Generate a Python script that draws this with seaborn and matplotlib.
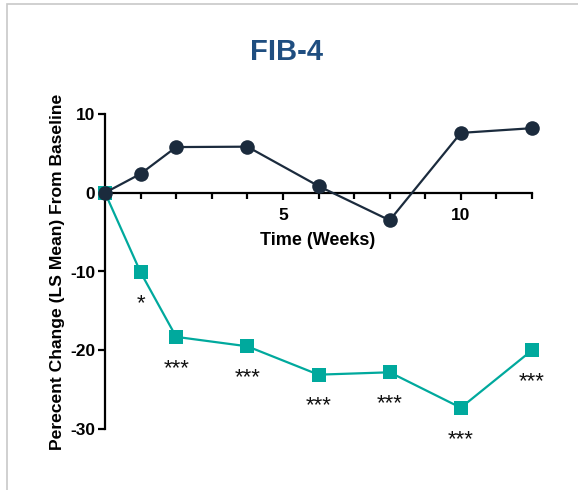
import matplotlib
matplotlib.use("Agg")
import matplotlib.pyplot as plt
from matplotlib.patches import Rectangle
from matplotlib.ticker import FixedLocator, NullFormatter
import seaborn as sns
import pandas as pd

# Weeks of assessment
weeks = [0, 1, 2, 4, 6, 8, 10, 12]
# LS mean percent change from baseline in FIB-4
placebo = [0.0, 2.4, 5.8, 5.85, 0.85, -3.5, 7.6, 8.2]
treated = [0.0, -10.1, -18.3, -19.5, -23.1, -22.8, -27.3, -20.0]
# significance markers for the treated arm
signif = ["", "*", "***", "***", "***", "***", "***", "***"]

y_ticks = [10, 0, -10, -20, -30]
x_major = [5, 10]
x_minor = [1, 2, 3, 4, 6, 7, 8, 9, 11, 12]

navy = "#1b2b3d"
teal = "#00a99d"

sns.set_theme(style="white")
plt.rcParams["font.family"] = ["Liberation Sans", "DejaVu Sans"]
plt.rcParams["font.weight"] = "bold"

DPI = 100
fig = plt.figure(figsize=(5.78, 4.9), dpi=DPI)
W, H = 578, 490
ax = fig.add_axes([105 / W, 1 - 429 / H, (532 - 105) / W, (429 - 114) / H])

df = pd.DataFrame({"week": weeks + weeks,
                   "change": treated + placebo,
                   "arm": ["treated"] * len(weeks) + ["placebo"] * len(weeks)})

sns.lineplot(data=df[df.arm == "treated"], x="week", y="change", ax=ax,
             color=teal, lw=1.6, marker="s", markersize=10, markeredgewidth=0,
             clip_on=False, zorder=3)
sns.lineplot(data=df[df.arm == "placebo"], x="week", y="change", ax=ax,
             color=navy, lw=1.6, marker="o", markersize=10.5, markeredgewidth=0,
             clip_on=False, zorder=4)

px = 72 / DPI  # points per pixel
for x, y, s in zip(weeks, treated, signif):
    if s:
        ax.annotate(s, (x, y), xytext=(0, -37 * px), textcoords="offset points",
                    ha="center", va="baseline", fontsize=16, color="#111111",
                    fontweight="normal")

ax.set_xlim(0, 12)
ax.set_ylim(-30, 10)
ax.spines["bottom"].set_position(("data", 0))
ax.spines["top"].set_visible(False)
ax.spines["right"].set_visible(False)
for sp in ("left", "bottom"):
    ax.spines[sp].set_linewidth(1.6)
    ax.spines[sp].set_color("black")

ax.set_yticks(y_ticks)
ax.set_yticklabels([str(t) for t in y_ticks])
ax.xaxis.set_major_locator(FixedLocator(x_major))
ax.xaxis.set_minor_locator(FixedLocator(x_minor))
ax.xaxis.set_minor_formatter(NullFormatter())
ax.tick_params(axis="both", which="major", length=5, width=1.6, color="black",
               labelsize=12.5, pad=2, labelcolor="black")
ax.tick_params(axis="x", which="major", pad=6)
ax.tick_params(axis="x", which="minor", length=4.5, width=1.6, color="black",
               bottom=True)
ax.tick_params(axis="x", which="both", direction="out", bottom=True)
ax.tick_params(axis="y", left=True)
for lab in ax.get_xticklabels() + ax.get_yticklabels():
    lab.set_fontweight("bold")

ax.set_xlabel("")
ax.set_ylabel("Perecent Change (LS Mean) From Baseline", fontsize=12.6,
              fontweight="bold", color="black", labelpad=4)
fig.text(318 / W, 1 - 240 / H, "Time (Weeks)", ha="center", va="center",
         fontsize=13, fontweight="bold", color="black")
fig.text(286 / W, 1 - 52 / H, "FIB-4", ha="center", va="center",
         fontsize=21, fontweight="bold", color="#1f4e80")

# thin frame along the top and left of the panel
fig.patches.append(Rectangle((7 / W, -0.01), 1.1, 1 - 4 / H + 0.01,
                             transform=fig.transFigure, fill=False,
                             edgecolor="#c8c8c8", lw=1.2))

fig.savefig("out.png", dpi=DPI)
